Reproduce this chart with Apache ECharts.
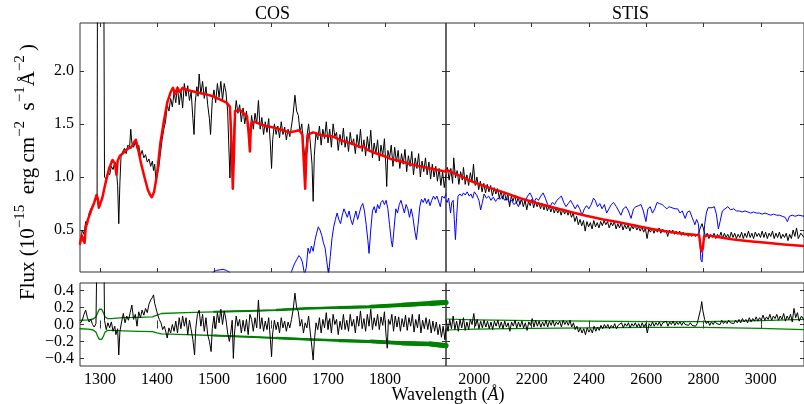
<!DOCTYPE html>
<html>
<head>
<meta charset="utf-8">
<script src="https://cdn.jsdelivr.net/npm/echarts@6/dist/echarts.min.js"></script>
<style>
html, body { margin: 0; padding: 0; background: #fff; }
#chart { width: 804px; height: 404px; }
</style>
</head>
<body>
<div id="chart"></div>
<script>
// axis ranges and ticks
const cosRange = [1265, 1907];
const stisRange = [1901, 3151];
const fluxRange = [0.105, 2.45];
const residRange = [-0.49, 0.49];
const cosTicks = [1300, 1400, 1500, 1600, 1700, 1800];
const stisTicks = [2000, 2200, 2400, 2600, 2800, 3000];
const fluxTicks = [0.5, 1.0, 1.5, 2.0];
const residTicks = [-0.4, -0.2, 0, 0.2, 0.4];

// COS observed flux [wavelength, flux]
const cosObs = [[1266,0.39],[1269,0.50],[1272,0.46],[1275,0.58],[1278,0.55],[1281,0.66],[1284,0.70],[1287,0.73],[1290,0.76],[1293,0.80],[1295,0.82],[1296,4.0],[1306,4.0],[1308,1.00],[1311,0.98],[1314,1.05],[1317,1.02],[1320,1.10],[1323,1.07],[1326,1.14],[1329,1.05],[1331,0.92],[1333,0.56],[1335,0.95],[1337,1.19],[1340,1.24],[1343,1.27],[1346,1.22],[1349,1.30],[1352,1.28],[1354,1.45],[1356,1.32],[1359,1.28],[1362,1.33],[1365,1.27],[1368,1.30],[1371,1.20],[1374,1.25],[1377,1.18],[1380,1.21],[1383,1.14],[1386,1.17],[1389,1.10],[1392,1.15],[1394,1.06],[1396,1.12],[1398,0.98],[1400,1.02],[1403,1.08],[1406,1.22],[1409,1.35],[1412,1.45],[1415,1.52],[1418,1.68],[1421,1.62],[1424,1.74],[1427,1.66],[1430,1.80],[1433,1.70],[1436,1.85],[1439,1.68],[1442,1.82],[1445,1.65],[1448,1.88],[1451,1.76],[1454,1.86],[1457,1.72],[1460,1.80],[1463,1.55],[1465,1.40],[1467,1.70],[1470,1.85],[1472,1.76],[1474,1.97],[1477,1.78],[1480,1.90],[1483,1.74],[1486,1.85],[1489,1.68],[1492,1.55],[1494,1.40],[1497,1.72],[1500,1.82],[1503,1.70],[1506,1.88],[1509,1.75],[1512,1.90],[1515,1.72],[1518,1.88],[1521,1.80],[1524,1.62],[1526,1.30],[1528,0.99],[1530,1.40],[1533,1.20],[1536,1.55],[1539,1.72],[1542,1.60],[1545,1.68],[1548,1.52],[1551,1.65],[1554,1.50],[1557,1.62],[1560,1.48],[1563,1.40],[1566,1.58],[1569,1.45],[1572,1.60],[1575,1.50],[1578,1.72],[1581,1.45],[1584,1.56],[1587,1.40],[1590,1.52],[1593,1.42],[1596,1.55],[1599,1.30],[1601,1.08],[1603,1.35],[1606,1.50],[1609,1.40],[1612,1.48],[1615,1.37],[1618,1.52],[1621,1.40],[1624,1.47],[1627,1.35],[1630,1.45],[1633,1.38],[1636,1.48],[1639,1.60],[1642,1.77],[1645,1.62],[1648,1.58],[1651,1.42],[1654,1.50],[1657,1.30],[1660,1.15],[1663,1.38],[1666,1.50],[1669,1.32],[1672,1.12],[1674,0.77],[1676,1.20],[1679,1.42],[1682,1.35],[1685,1.48],[1688,1.30],[1691,1.45],[1694,1.36],[1697,1.52],[1700,1.32],[1703,1.45],[1706,1.28],[1709,1.50],[1712,1.38],[1715,1.42],[1718,1.25],[1721,1.40],[1724,1.30],[1727,1.46],[1730,1.28],[1733,1.38],[1736,1.24],[1739,1.42],[1742,1.30],[1745,1.36],[1748,1.22],[1751,1.40],[1754,1.28],[1757,1.45],[1760,1.24],[1763,1.35],[1766,1.20],[1769,1.38],[1772,1.25],[1775,1.44],[1778,1.18],[1781,1.32],[1784,1.22],[1787,1.35],[1790,1.15],[1793,1.30],[1796,1.20],[1799,1.36],[1802,1.05],[1803,0.91],[1805,1.25],[1808,1.18],[1811,1.30],[1814,1.10],[1817,1.28],[1820,1.14],[1823,1.25],[1826,1.08],[1829,1.22],[1832,1.12],[1835,1.26],[1838,1.05],[1841,1.20],[1844,1.10],[1847,1.24],[1850,1.02],[1853,1.18],[1856,1.08],[1859,1.22],[1862,1.00],[1865,1.15],[1868,1.05],[1871,1.18],[1874,1.02],[1877,1.14],[1880,0.98],[1883,1.12],[1886,1.00],[1889,1.10],[1892,0.96],[1895,1.08],[1898,0.92],[1901,1.05],[1904,0.90],[1907,1.02]];

// COS model (red)
const cosModel = [[1265,0.37],[1268,0.45],[1271,0.40],[1273,0.38],[1275,0.52],[1279,0.60],[1285,0.69],[1290,0.76],[1294,0.83],[1296,0.80],[1298,0.71],[1301,0.72],[1304,0.80],[1308,0.90],[1311,0.97],[1316,1.08],[1322,1.16],[1326,1.13],[1329,1.02],[1331,1.15],[1335,1.20],[1340,1.22],[1345,1.25],[1350,1.27],[1355,1.28],[1360,1.33],[1363,1.35],[1367,1.26],[1372,1.13],[1378,1.00],[1384,0.88],[1388,0.83],[1391,0.81],[1395,0.86],[1400,1.02],[1406,1.32],[1412,1.52],[1418,1.70],[1424,1.80],[1428,1.84],[1432,1.78],[1436,1.84],[1440,1.80],[1445,1.84],[1452,1.82],[1460,1.81],[1468,1.80],[1475,1.79],[1485,1.78],[1498,1.76],[1510,1.73],[1522,1.70],[1528,1.66],[1531,1.30],[1533,0.89],[1535,1.20],[1537,1.62],[1545,1.63],[1552,1.60],[1558,1.57],[1561,1.40],[1563,1.24],[1565,1.50],[1572,1.52],[1580,1.50],[1590,1.48],[1600,1.47],[1609,1.46],[1620,1.44],[1632,1.42],[1642,1.43],[1650,1.44],[1655,1.40],[1658,1.10],[1660,0.89],[1662,1.20],[1665,1.40],[1674,1.42],[1690,1.39],[1709,1.38],[1725,1.34],[1744,1.31],[1756,1.28],[1762,1.29],[1768,1.26],[1780,1.23],[1797,1.20],[1810,1.17],[1826,1.15],[1845,1.12],[1861,1.10],[1880,1.08],[1907,1.05]];

// COS comparison spectrum (blue)
const cosComp = [[1490,0.05],[1498,0.10],[1504,0.12],[1510,0.125],[1516,0.13],[1522,0.12],[1528,0.10],[1535,0.05],[1630,0.02],[1636,0.11],[1641,0.18],[1645,0.22],[1649,0.26],[1652,0.24],[1655,0.20],[1659,0.08],[1662,0.15],[1665,0.33],[1668,0.28],[1671,0.35],[1674,0.30],[1677,0.40],[1680,0.47],[1683,0.53],[1686,0.50],[1689,0.45],[1692,0.38],[1695,0.33],[1698,0.20],[1701,0.08],[1704,0.25],[1707,0.42],[1710,0.53],[1713,0.60],[1716,0.66],[1719,0.60],[1722,0.56],[1725,0.64],[1728,0.70],[1731,0.66],[1734,0.62],[1737,0.68],[1740,0.60],[1743,0.55],[1746,0.62],[1749,0.68],[1752,0.60],[1755,0.66],[1758,0.72],[1761,0.75],[1764,0.68],[1767,0.55],[1770,0.40],[1772,0.28],[1775,0.50],[1778,0.68],[1781,0.72],[1784,0.66],[1787,0.74],[1790,0.70],[1793,0.76],[1796,0.78],[1799,0.74],[1802,0.78],[1805,0.70],[1808,0.55],[1811,0.40],[1813,0.34],[1816,0.52],[1819,0.70],[1822,0.66],[1825,0.74],[1828,0.78],[1831,0.72],[1834,0.66],[1837,0.74],[1840,0.70],[1843,0.62],[1846,0.70],[1849,0.62],[1852,0.50],[1855,0.41],[1858,0.55],[1861,0.72],[1864,0.79],[1867,0.76],[1870,0.80],[1873,0.75],[1876,0.79],[1879,0.73],[1882,0.78],[1885,0.82],[1888,0.79],[1891,0.82],[1894,0.81],[1897,0.72],[1900,0.82],[1904,0.80],[1907,0.84]];

// STIS observed flux
const stisObs = [[1901,1.04],[1906,1.09],[1912,0.97],[1918,1.08],[1924,0.94],[1928,1.18],[1934,0.99],[1940,1.06],[1946,0.93],[1952,1.05],[1958,0.97],[1962,1.09],[1968,0.93],[1974,1.02],[1980,0.92],[1986,1.04],[1992,0.96],[1997,1.12],[2003,0.92],[2009,1.00],[2015,0.88],[2021,0.96],[2027,0.86],[2033,0.94],[2039,0.85],[2045,0.93],[2051,0.86],[2057,0.92],[2063,0.82],[2069,0.90],[2075,0.84],[2081,0.89],[2087,0.80],[2093,0.87],[2099,0.79],[2105,0.86],[2111,0.78],[2117,0.84],[2123,0.72],[2129,0.82],[2135,0.77],[2141,0.83],[2147,0.75],[2153,0.81],[2159,0.74],[2165,0.79],[2171,0.72],[2177,0.78],[2183,0.69],[2189,0.77],[2195,0.73],[2201,0.79],[2207,0.71],[2213,0.77],[2219,0.72],[2225,0.76],[2231,0.70],[2237,0.75],[2243,0.69],[2249,0.74],[2255,0.68],[2261,0.73],[2267,0.67],[2273,0.72],[2279,0.66],[2285,0.71],[2291,0.66],[2297,0.70],[2303,0.64],[2309,0.70],[2315,0.65],[2321,0.69],[2327,0.64],[2333,0.68],[2339,0.62],[2345,0.66],[2351,0.58],[2357,0.63],[2363,0.55],[2369,0.60],[2375,0.54],[2381,0.59],[2387,0.49],[2393,0.58],[2399,0.53],[2405,0.57],[2411,0.51],[2417,0.59],[2423,0.53],[2429,0.57],[2435,0.52],[2441,0.58],[2447,0.54],[2453,0.59],[2459,0.55],[2465,0.58],[2471,0.52],[2477,0.57],[2483,0.54],[2489,0.58],[2495,0.51],[2501,0.56],[2507,0.52],[2513,0.57],[2519,0.50],[2525,0.55],[2531,0.51],[2537,0.55],[2543,0.49],[2549,0.54],[2555,0.51],[2561,0.55],[2567,0.50],[2573,0.53],[2579,0.49],[2585,0.53],[2591,0.48],[2597,0.52],[2603,0.42],[2609,0.51],[2615,0.48],[2621,0.52],[2627,0.47],[2633,0.51],[2639,0.48],[2645,0.52],[2651,0.47],[2657,0.51],[2663,0.48],[2669,0.50],[2675,0.44],[2681,0.50],[2687,0.47],[2693,0.50],[2699,0.46],[2705,0.49],[2711,0.46],[2717,0.49],[2723,0.45],[2729,0.48],[2735,0.45],[2741,0.47],[2747,0.44],[2753,0.46],[2759,0.44],[2765,0.46],[2771,0.44],[2777,0.45],[2783,0.47],[2789,0.52],[2795,0.56],[2801,0.50],[2807,0.44],[2813,0.47],[2819,0.42],[2825,0.46],[2831,0.43],[2837,0.47],[2843,0.42],[2849,0.46],[2855,0.43],[2861,0.48],[2867,0.42],[2873,0.47],[2879,0.43],[2885,0.46],[2891,0.42],[2897,0.48],[2903,0.43],[2909,0.47],[2915,0.42],[2921,0.46],[2927,0.43],[2933,0.48],[2939,0.42],[2945,0.47],[2951,0.43],[2957,0.49],[2963,0.43],[2969,0.47],[2975,0.42],[2981,0.48],[2987,0.44],[2993,0.47],[2999,0.43],[3005,0.49],[3011,0.43],[3017,0.48],[3023,0.42],[3029,0.47],[3035,0.44],[3041,0.49],[3047,0.42],[3053,0.47],[3059,0.43],[3065,0.48],[3071,0.42],[3077,0.46],[3083,0.43],[3089,0.47],[3095,0.40],[3101,0.46],[3107,0.42],[3113,0.50],[3119,0.44],[3125,0.52],[3131,0.42],[3140,0.47],[3151,0.43]];

// STIS model (red)
const stisModel = [[1901,1.07],[1950,1.01],[1994,0.955],[2050,0.90],[2108,0.85],[2160,0.80],[2222,0.75],[2280,0.71],[2336,0.67],[2390,0.635],[2450,0.60],[2500,0.575],[2564,0.54],[2620,0.51],[2678,0.485],[2730,0.465],[2769,0.455],[2785,0.45],[2789,0.36],[2793,0.30],[2798,0.33],[2802,0.44],[2815,0.45],[2860,0.43],[2906,0.41],[2960,0.395],[3020,0.38],[3080,0.365],[3151,0.35]];

// STIS comparison spectrum (blue)
const stisComp = [[1901,0.78],[1905,0.76],[1910,0.80],[1914,0.72],[1917,0.66],[1921,0.76],[1926,0.78],[1930,0.60],[1934,0.41],[1938,0.62],[1943,0.82],[1950,0.84],[1956,0.82],[1962,0.85],[1968,0.83],[1975,0.86],[1982,0.82],[1988,0.84],[1994,0.80],[2000,0.86],[2008,0.83],[2016,0.78],[2022,0.69],[2028,0.76],[2034,0.84],[2042,0.80],[2050,0.82],[2058,0.78],[2066,0.81],[2074,0.77],[2082,0.80],[2090,0.79],[2098,0.82],[2106,0.78],[2114,0.80],[2122,0.76],[2130,0.78],[2138,0.74],[2146,0.76],[2154,0.72],[2162,0.78],[2170,0.80],[2178,0.78],[2186,0.82],[2194,0.85],[2200,0.82],[2208,0.76],[2216,0.80],[2224,0.78],[2232,0.82],[2240,0.85],[2248,0.80],[2256,0.74],[2264,0.72],[2272,0.76],[2280,0.74],[2288,0.78],[2296,0.80],[2304,0.82],[2312,0.76],[2320,0.72],[2328,0.75],[2336,0.78],[2344,0.74],[2352,0.70],[2360,0.74],[2368,0.70],[2376,0.64],[2384,0.70],[2392,0.73],[2400,0.70],[2408,0.74],[2416,0.80],[2422,0.78],[2430,0.72],[2438,0.75],[2446,0.70],[2454,0.74],[2462,0.66],[2470,0.70],[2478,0.74],[2486,0.76],[2496,0.72],[2504,0.68],[2512,0.64],[2520,0.70],[2530,0.72],[2538,0.68],[2547,0.61],[2556,0.70],[2564,0.72],[2574,0.73],[2582,0.74],[2590,0.68],[2599,0.58],[2606,0.70],[2614,0.72],[2622,0.66],[2630,0.70],[2638,0.76],[2646,0.75],[2656,0.74],[2664,0.72],[2672,0.70],[2680,0.72],[2690,0.71],[2701,0.70],[2710,0.70],[2718,0.66],[2726,0.68],[2736,0.61],[2744,0.67],[2752,0.68],[2760,0.62],[2766,0.58],[2770,0.55],[2776,0.60],[2782,0.56],[2787,0.40],[2791,0.22],[2795,0.20],[2799,0.35],[2804,0.55],[2810,0.66],[2816,0.71],[2822,0.72],[2830,0.71],[2838,0.72],[2845,0.65],[2852,0.51],[2858,0.58],[2866,0.68],[2875,0.70],[2885,0.72],[2895,0.69],[2905,0.70],[2915,0.68],[2925,0.68],[2935,0.67],[2945,0.68],[2955,0.67],[2965,0.66],[2975,0.67],[2985,0.66],[2995,0.66],[3005,0.65],[3015,0.66],[3025,0.65],[3035,0.64],[3045,0.65],[3055,0.64],[3065,0.64],[3075,0.63],[3085,0.62],[3093,0.58],[3100,0.63],[3110,0.64],[3120,0.63],[3132,0.64],[3151,0.63]];

// COS residuals (obs - model)
const cosResid = [[1266,0.02],[1269,0.05],[1272,0.12],[1275,0.17],[1278,0.08],[1281,0.03],[1284,0.06],[1287,0.00],[1290,-0.03],[1293,0.01],[1295,0.02],[1296,1.5],[1306,1.5],[1308,0.05],[1311,-0.06],[1314,0.02],[1317,-0.04],[1320,0.03],[1323,-0.08],[1326,-0.02],[1328,-0.12],[1331,-0.05],[1333,-0.36],[1335,-0.08],[1338,0.03],[1341,0.13],[1344,0.02],[1347,0.10],[1350,0.05],[1353,0.14],[1356,0.23],[1359,0.06],[1362,0.12],[1365,-0.02],[1368,0.15],[1371,0.08],[1374,0.17],[1377,0.11],[1380,0.19],[1383,0.14],[1386,0.24],[1389,0.29],[1392,0.32],[1394,0.35],[1396,0.25],[1398,0.20],[1401,0.12],[1404,0.06],[1407,0.02],[1410,-0.06],[1413,-0.02],[1416,-0.10],[1418,-0.16],[1421,-0.04],[1424,-0.10],[1427,0.00],[1430,-0.08],[1433,0.04],[1436,-0.10],[1439,0.08],[1442,-0.05],[1445,0.10],[1448,-0.02],[1451,0.08],[1454,-0.12],[1457,0.05],[1460,-0.06],[1463,-0.18],[1466,-0.36],[1468,-0.05],[1471,0.12],[1474,0.17],[1477,-0.02],[1480,0.12],[1483,-0.08],[1486,0.08],[1489,-0.12],[1492,-0.20],[1495,-0.32],[1497,-0.05],[1500,0.10],[1503,-0.05],[1506,0.14],[1509,0.02],[1512,0.18],[1515,0.00],[1518,0.16],[1521,0.06],[1524,-0.10],[1527,-0.20],[1529,-0.12],[1532,0.05],[1534,-0.40],[1536,-0.10],[1539,0.10],[1542,-0.02],[1545,0.06],[1548,-0.10],[1551,0.05],[1554,-0.08],[1557,0.06],[1560,-0.12],[1563,0.12],[1566,0.06],[1569,-0.08],[1572,0.08],[1575,-0.04],[1578,0.29],[1581,-0.05],[1584,0.08],[1587,-0.08],[1590,0.04],[1593,-0.06],[1596,0.08],[1599,-0.18],[1601,-0.38],[1603,-0.10],[1606,0.05],[1609,-0.06],[1612,0.03],[1615,-0.10],[1618,0.08],[1621,-0.04],[1624,0.04],[1627,-0.08],[1630,0.03],[1633,-0.04],[1636,0.06],[1639,0.18],[1642,0.37],[1645,0.20],[1648,0.15],[1651,-0.02],[1654,0.06],[1657,-0.10],[1660,0.02],[1663,-0.04],[1666,0.10],[1669,-0.10],[1672,-0.28],[1674,-0.42],[1676,-0.20],[1679,0.02],[1682,-0.06],[1685,0.08],[1688,-0.10],[1691,0.06],[1694,-0.04],[1697,0.14],[1700,-0.06],[1703,0.07],[1706,-0.10],[1709,0.12],[1712,0.00],[1715,0.06],[1718,-0.12],[1721,0.04],[1724,-0.06],[1727,0.12],[1730,-0.06],[1733,0.05],[1736,-0.08],[1739,0.12],[1742,-0.02],[1745,0.06],[1748,-0.10],[1751,0.10],[1754,-0.02],[1757,0.16],[1760,-0.05],[1763,0.07],[1766,-0.08],[1769,0.12],[1772,-0.02],[1775,0.18],[1778,-0.06],[1781,0.08],[1784,-0.02],[1787,0.12],[1790,-0.06],[1793,0.09],[1796,-0.01],[1799,0.15],[1802,-0.14],[1804,-0.28],[1806,0.06],[1809,0.00],[1812,0.12],[1815,-0.08],[1818,0.10],[1821,-0.03],[1824,0.09],[1827,-0.08],[1830,0.07],[1833,-0.03],[1836,0.11],[1839,-0.07],[1842,0.08],[1845,-0.02],[1848,0.12],[1851,-0.09],[1854,0.06],[1857,-0.04],[1860,0.12],[1863,-0.10],[1866,0.05],[1869,-0.05],[1872,0.08],[1875,-0.06],[1878,0.06],[1881,-0.10],[1884,0.04],[1887,-0.08],[1890,0.03],[1893,-0.12],[1896,0.00],[1899,-0.15],[1902,-0.02],[1905,-0.18],[1907,-0.05]];

// COS error envelope (green)
const cosErrUp = [[1265,0.05],[1280,0.055],[1288,0.065],[1293,0.09],[1296,0.14],[1299,0.18],[1301,0.19],[1303,0.18],[1306,0.14],[1309,0.09],[1313,0.07],[1320,0.07],[1340,0.08],[1370,0.085],[1392,0.09],[1400,0.11],[1408,0.13],[1450,0.14],[1500,0.15],[1560,0.16],[1610,0.17],[1660,0.19],[1720,0.20],[1775,0.21],[1830,0.23],[1880,0.25],[1907,0.26]];
const cosErrLow = [[1265,-0.05],[1280,-0.055],[1288,-0.065],[1293,-0.09],[1296,-0.14],[1299,-0.175],[1301,-0.185],[1303,-0.175],[1306,-0.14],[1309,-0.09],[1313,-0.07],[1320,-0.07],[1340,-0.075],[1370,-0.08],[1392,-0.085],[1400,-0.10],[1408,-0.11],[1450,-0.12],[1500,-0.13],[1560,-0.145],[1610,-0.16],[1660,-0.175],[1720,-0.19],[1775,-0.20],[1830,-0.22],[1880,-0.23],[1907,-0.25]];

// STIS residuals
const stisResid = [[1902,0.05],[1908,-0.08],[1914,0.06],[1920,-0.05],[1926,0.10],[1932,-0.06],[1938,0.04],[1944,-0.08],[1950,0.06],[1956,-0.04],[1962,0.08],[1968,-0.07],[1974,0.03],[1980,-0.06],[1986,0.06],[1992,0.00],[1998,0.13],[2004,-0.02],[2010,0.06],[2016,-0.05],[2022,0.04],[2028,-0.04],[2034,0.05],[2040,-0.03],[2046,0.04],[2052,-0.05],[2058,0.03],[2064,-0.06],[2070,0.04],[2076,-0.02],[2082,0.05],[2088,-0.04],[2094,0.03],[2100,-0.05],[2106,0.04],[2112,-0.03],[2118,0.02],[2124,-0.08],[2130,0.03],[2136,-0.02],[2142,0.05],[2148,-0.04],[2154,0.03],[2160,-0.03],[2166,0.04],[2172,-0.04],[2178,0.02],[2184,-0.07],[2190,0.03],[2196,-0.01],[2202,0.07],[2208,-0.03],[2214,0.05],[2220,-0.02],[2226,0.04],[2232,-0.03],[2238,0.03],[2244,-0.02],[2250,0.05],[2256,-0.03],[2262,0.04],[2268,-0.01],[2274,0.05],[2280,-0.02],[2286,0.03],[2292,0.00],[2298,0.04],[2304,-0.03],[2310,0.05],[2316,0.00],[2322,0.04],[2328,-0.01],[2334,0.05],[2340,-0.03],[2346,0.02],[2352,-0.06],[2358,-0.02],[2364,-0.09],[2370,-0.04],[2376,-0.10],[2382,-0.05],[2388,-0.12],[2394,-0.04],[2400,-0.09],[2406,-0.05],[2412,-0.10],[2418,-0.02],[2424,-0.08],[2430,-0.03],[2436,-0.07],[2442,-0.01],[2448,-0.05],[2454,0.00],[2460,-0.04],[2466,0.00],[2472,-0.05],[2478,-0.01],[2484,-0.04],[2490,0.01],[2496,-0.05],[2502,-0.01],[2508,-0.03],[2514,0.02],[2520,-0.04],[2526,0.01],[2532,-0.02],[2538,0.02],[2544,-0.04],[2550,0.01],[2556,-0.02],[2562,0.02],[2568,-0.03],[2574,0.01],[2580,-0.04],[2586,0.02],[2592,-0.03],[2598,0.01],[2604,-0.10],[2610,0.01],[2616,-0.02],[2622,0.03],[2628,-0.02],[2634,0.02],[2640,-0.01],[2646,0.03],[2652,-0.02],[2658,0.02],[2664,0.00],[2670,0.04],[2676,-0.02],[2682,0.03],[2688,0.00],[2694,0.04],[2700,-0.01],[2706,0.03],[2712,0.00],[2718,0.03],[2724,-0.01],[2730,0.03],[2736,0.00],[2742,0.02],[2748,-0.01],[2754,0.02],[2760,-0.01],[2766,0.01],[2772,-0.02],[2778,0.01],[2784,0.03],[2790,0.18],[2794,0.27],[2798,0.16],[2804,0.06],[2810,0.01],[2816,0.04],[2822,-0.01],[2828,0.03],[2834,0.00],[2840,0.04],[2846,0.01],[2852,0.03],[2858,0.00],[2864,0.05],[2870,0.01],[2876,0.04],[2882,0.01],[2888,0.05],[2894,0.02],[2900,0.04],[2906,0.01],[2912,0.05],[2918,0.02],[2924,0.06],[2930,0.02],[2936,0.07],[2942,0.03],[2948,0.06],[2954,0.02],[2960,0.08],[2966,0.03],[2972,0.07],[2978,0.04],[2984,0.09],[2990,0.04],[2996,0.08],[3002,0.05],[3008,0.11],[3014,0.05],[3020,0.09],[3026,0.06],[3032,0.12],[3038,0.05],[3044,0.10],[3050,0.07],[3056,0.12],[3062,0.05],[3068,0.10],[3074,0.06],[3080,0.13],[3086,0.04],[3092,0.10],[3098,0.06],[3104,0.12],[3110,0.03],[3116,0.19],[3122,0.08],[3128,0.14],[3134,0.04],[3142,0.10],[3151,0.05]];

// STIS error envelope
const stisErrUp = [[1901,0.065],[2000,0.055],[2200,0.045],[2400,0.04],[2600,0.035],[2800,0.035],[3000,0.045],[3151,0.06]];
const stisErrLow = [[1901,-0.065],[2000,-0.055],[2200,-0.045],[2400,-0.04],[2600,-0.035],[2800,-0.035],[3000,-0.045],[3151,-0.06]];

const FONT = 'Liberation Serif';
const chart = echarts.init(document.getElementById('chart'));

const grids = [
  { left: 80, top: 23, width: 366, height: 249 },
  { left: 446, top: 23, width: 366, height: 249 },
  { left: 80, top: 283, width: 366, height: 83 },
  { left: 446, top: 283, width: 366, height: 83 }
];

// tick labels go through a rich style so the serif face is applied for sure
const fmtX = v => '{t|' + v + '}';
const fmtY = v => '{t|' + (v < 0 ? '\u2212' + Math.abs(v).toFixed(1) : v.toFixed(1)) + '}';
const tickRich = { t: { fontFamily: FONT, fontSize: 16, color: '#000' } };

function xAx(g, range, ticks, pos, labels) {
  return {
    type: 'value', gridIndex: g, position: pos, min: range[0], max: range[1],
    axisLine: { show: false },
    splitLine: { show: false },
    axisTick: { show: true, inside: true, length: 4, customValues: ticks, lineStyle: { color: '#333' } },
    axisLabel: { show: labels, customValues: ticks, formatter: fmtX, margin: 6,
      fontFamily: FONT, fontSize: 16, color: '#000', rich: tickRich }
  };
}
function yAx(g, range, ticks, pos, labels) {
  return {
    type: 'value', gridIndex: g, position: pos, min: range[0], max: range[1],
    axisLine: { show: false },
    splitLine: { show: false },
    axisTick: { show: true, inside: true, length: 4, customValues: ticks, lineStyle: { color: '#333' } },
    axisLabel: { show: labels, customValues: ticks, formatter: fmtY, margin: 6,
      fontFamily: FONT, fontSize: 16, color: '#000', rich: tickRich }
  };
}

const xAxes = [
  xAx(0, cosRange, cosTicks, 'bottom', false), xAx(0, cosRange, cosTicks, 'top', false),
  xAx(1, stisRange, stisTicks, 'bottom', false), xAx(1, stisRange, stisTicks, 'top', false),
  xAx(2, cosRange, cosTicks, 'bottom', true), xAx(2, cosRange, cosTicks, 'top', false),
  xAx(3, stisRange, stisTicks, 'bottom', true), xAx(3, stisRange, stisTicks, 'top', false)
];
const yAxes = [
  yAx(0, fluxRange, fluxTicks, 'left', true), yAx(0, fluxRange, fluxTicks, 'right', false),
  yAx(1, fluxRange, fluxTicks, 'left', false), yAx(1, fluxRange, fluxTicks, 'right', false),
  yAx(2, residRange, residTicks, 'left', true), yAx(2, residRange, residTicks, 'right', false),
  yAx(3, residRange, residTicks, 'left', false), yAx(3, residRange, residTicks, 'right', false)
];

function line(g, data, color, width, z) {
  return {
    type: 'line', xAxisIndex: g * 2, yAxisIndex: g * 2, data: data,
    symbol: 'none', showSymbol: false, silent: true, z: z || 2,
    lineStyle: { color: color, width: width, cap: 'round', join: 'round' }
  };
}

// the error envelope gets noisier (visually thicker) towards the red end
const bandSteps = [[1480, 1.9], [1580, 2.5], [1670, 3.1], [1750, 3.8], [1820, 4.5], [1870, 5.2]];
const bandSeries = [];
bandSteps.forEach(([from, w]) => {
  bandSeries.push(line(2, cosErrUp.filter(p => p[0] >= from), '#008000', w, 2));
  bandSeries.push(line(2, cosErrLow.filter(p => p[0] >= from), '#008000', w, 2));
});

const series = [
  line(0, cosObs, '#000', 1, 2),
  line(0, cosComp, '#0000ff', 1, 3),
  line(0, cosModel, '#ff0000', 2.5, 4),
  line(1, stisObs, '#000', 1, 2),
  line(1, stisComp, '#0000ff', 1, 3),
  line(1, stisModel, '#ff0000', 2.5, 4),
  line(2, cosErrUp, '#008000', 1.3, 2),
  line(2, cosErrLow, '#008000', 1.3, 2)
].concat(bandSeries, [
  line(2, cosResid, '#000', 1, 3),
  line(3, stisErrUp, '#008000', 1.2, 2),
  line(3, stisErrLow, '#008000', 1.2, 2),
  line(3, stisResid, '#000', 1, 3)
]);

chart.setOption({
  animation: false,
  backgroundColor: '#fff',
  textStyle: { fontFamily: FONT },
  grid: grids.map(g => Object.assign({ show: true, borderColor: '#333', borderWidth: 1, backgroundColor: 'transparent' }, g)),
  xAxis: xAxes,
  yAxis: yAxes,
  series: series,
  graphic: [
    { type: 'text', left: 255, top: 5, style: { text: 'COS', fontFamily: FONT, fontSize: 18, fill: '#000' } },
    { type: 'text', left: 612, top: 5, style: { text: 'STIS', fontFamily: FONT, fontSize: 18, fill: '#000' } },
    { type: 'text', x: 448, y: 395, style: {
        text: '{m|Wavelength (}{i|\u00c5}{m|)}', align: 'center', verticalAlign: 'middle', fill: '#000',
        rich: { m: { fontFamily: FONT, fontSize: 18 }, i: { fontFamily: FONT, fontSize: 18, fontStyle: 'italic' } }
      } },
    { type: 'text', x: 28, y: 172, rotation: Math.PI / 2, style: {
        text: '{m|Flux (10}{s|\u221215}{m|\u2002erg cm}{s|\u22122}{m|\u2002s}{s|\u22121}{m|\u00c5}{s|\u22122}{m|\u2009)}',
        align: 'center', verticalAlign: 'middle', fill: '#000',
        rich: {
          m: { fontFamily: FONT, fontSize: 21, lineHeight: 30, verticalAlign: 'middle' },
          s: { fontFamily: FONT, fontSize: 15, lineHeight: 15, verticalAlign: 'top' }
        }
      } }
  ]
});
</script>
</body>
</html>
